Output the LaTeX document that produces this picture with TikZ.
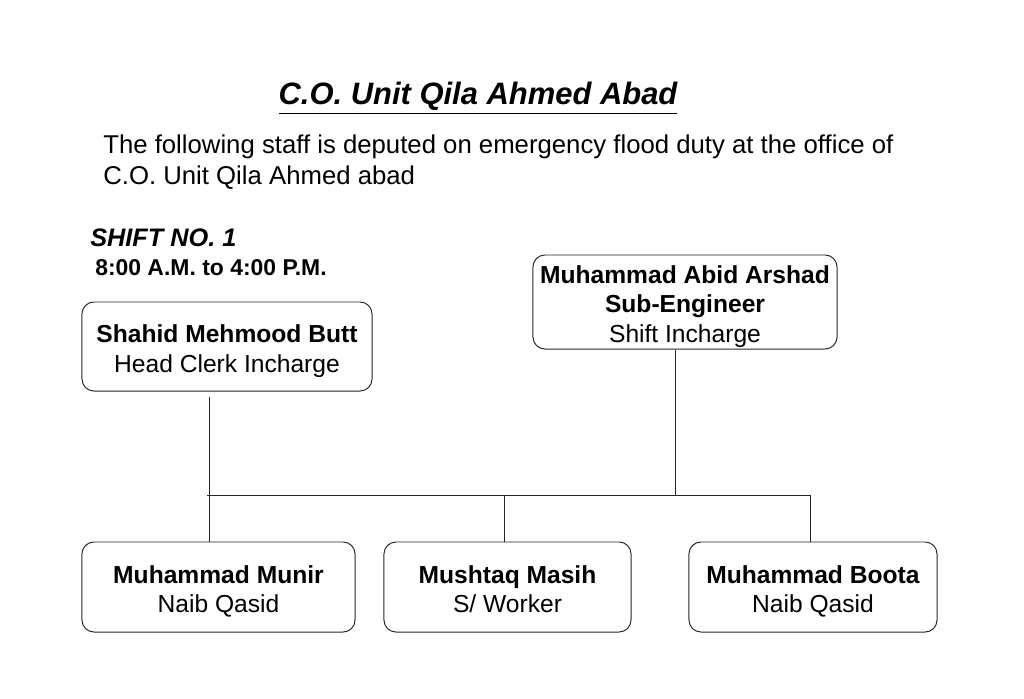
\documentclass[tikz,border=0pt]{standalone}
\usepackage{fontspec}
\setmainfont{Liberation Sans}
\usepackage{tikz}

% box text, set a little low as in the slide
\newcommand{\cardtext}[1]{\raisebox{-3.5pt}[\height][\depth]{\begin{tabular}{@{}c@{}}#1\end{tabular}}}

\tikzset{
  staffbox/.style={draw=black!85, line width=0.7pt, rounded corners=0.3cm,
    inner sep=0pt, font=\fontsize{17.5}{21}\selectfont},
  link/.style={black!85, line width=0.6pt}
}

\begin{document}
\begin{tikzpicture}[x=0.025cm, y=-0.025cm]
                \useasboundingbox (0,0) rectangle (1024,698);

                %% heading
                \node (title) at (478,98) {\fontsize{22}{26}\selectfont\bfseries\itshape\underline{C.O. Unit Qila Ahmed Abad}};
                \node[anchor=west, align=left, inner sep=0pt, font=\fontsize{18.3}{22}\selectfont] (intro) at (103,162)
                    {The following staff is deputed on emergency flood duty at the office of\\C.O. Unit Qila Ahmed abad};

                %% shift
                \node[anchor=west, inner sep=0pt, font=\fontsize{18}{22}\selectfont\bfseries\itshape] (shift) at (90,238) {SHIFT NO. 1};
                \node[anchor=west, inner sep=0pt, font=\fontsize{16.3}{20}\selectfont\bfseries] (hours) at (95,268) {8:00 A.M. to 4:00 P.M.};

                %% incharges
                \node[staffbox, minimum width=7.25cm, minimum height=2.225cm] (shahid) at (227,346.5)
                    {\cardtext{\textbf{Shahid Mehmood Butt}\\Head Clerk Incharge}};
                \node[staffbox, minimum width=7.6cm, minimum height=2.35cm] (abid) at (685,302)
                    {\cardtext{\textbf{Muhammad Abid Arshad}\\\textbf{Sub-Engineer}\\Shift Incharge}};

                %% staff
                \node[staffbox, minimum width=6.825cm, minimum height=2.25cm] (munir) at (218.5,587)
                    {\cardtext{\textbf{Muhammad Munir}\\Naib Qasid}};
                \node[staffbox, minimum width=6.175cm, minimum height=2.25cm] (mushtaq) at (507.5,587)
                    {\cardtext{\textbf{Mushtaq Masih}\\S/ Worker}};
                \node[staffbox, minimum width=6.2cm, minimum height=2.25cm] (boota) at (813,587)
                    {\cardtext{\textbf{Muhammad Boota}\\Naib Qasid}};

                %% bus
                \coordinate (busL) at (207,495);
                \coordinate (j1) at (209,495);
                \coordinate (j2) at (504,495);
                \coordinate (j3) at (675,495);
                \coordinate (j4) at (810,495);

                \draw[link, shorten <=0.125cm] (shahid.south -| j1) -- (munir.north -| j1);
                \draw[link] (abid.south -| j3) -- (j3);
                \draw[link] (busL) -- (j4) -- (boota.north -| j4);
                \draw[link] (j2) -- (mushtaq.north -| j2);

\end{tikzpicture}
\end{document}
